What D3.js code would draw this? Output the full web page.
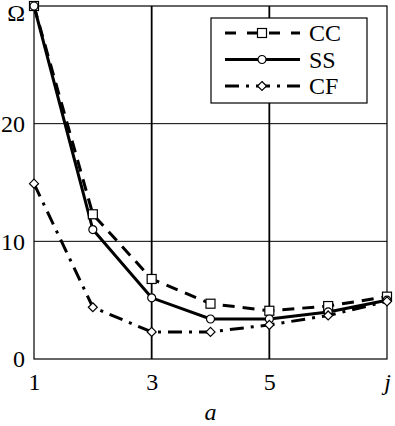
<!DOCTYPE html>
<html>
<head>
<meta charset="utf-8">
<script src="https://cdn.jsdelivr.net/npm/d3@7"></script>
<style>
  body { margin: 0; background: #fff; }
  text { font-family: "Liberation Serif", "Times New Roman", serif; fill: #000; }
</style>
</head>
<body>
<svg id="chart"></svg>
<script>
const xValues = [1, 2, 3, 4, 5, 6, 7];
const ccValues = [30, 12.3, 6.8, 4.7, 4.1, 4.5, 5.3];
const ssValues = [30, 11.0, 5.2, 3.4, 3.4, 4.0, 5.0];
const cfValues = [14.9, 4.4, 2.3, 2.3, 2.9, 3.7, 4.9];
const xTicks = [1, 3, 5, 7];
const xTickLabels = ["1", "3", "5", "j"];
const yTicks = [0, 10, 20, 30];
const yTickLabels = ["0", "10", "20", "Ω"];
const seriesNames = ["CC", "SS", "CF"];

const width = 395;
const height = 426;
const margin = { top: 6, right: 8, bottom: 67, left: 34 };
const serif = "'Liberation Serif', 'Times New Roman', serif";

const svg = d3.select("#chart")
  .attr("width", width)
  .attr("height", height);

const innerWidth = width - margin.left - margin.right;
const innerHeight = height - margin.top - margin.bottom;

const g = svg.append("g")
  .attr("transform", `translate(${margin.left},${margin.top})`);

const xScale = d3.scaleLinear().domain([1, 7]).range([0, innerWidth]);
const yScale = d3.scaleLinear().domain([0, 30]).range([innerHeight, 0]);

// grid
g.selectAll(".hgrid")
  .data([10, 20])
  .enter().append("line")
  .attr("x1", 0).attr("x2", innerWidth)
  .attr("y1", d => yScale(d)).attr("y2", d => yScale(d))
  .attr("stroke", "#000").attr("stroke-width", 1);

g.selectAll(".vgrid")
  .data([3, 5])
  .enter().append("line")
  .attr("y1", 0).attr("y2", innerHeight)
  .attr("x1", d => xScale(d)).attr("x2", d => xScale(d))
  .attr("stroke", "#000").attr("stroke-width", 1.8);

g.append("rect")
  .attr("x", 0).attr("y", 0)
  .attr("width", innerWidth).attr("height", innerHeight)
  .attr("fill", "none").attr("stroke", "#000").attr("stroke-width", 1.2);

// tick labels
const xAxis = d3.axisBottom(xScale)
  .tickValues(xTicks)
  .tickSize(0)
  .tickPadding(14)
  .tickFormat((d, i) => xTickLabels[i]);
const xAxisG = g.append("g")
  .attr("transform", `translate(0,${innerHeight})`)
  .call(xAxis);
xAxisG.select(".domain").remove();
xAxisG.selectAll("text")
  .style("font-size", "24px")
  .style("font-family", serif)
  .style("font-style", (d, i) => xTickLabels[i] === "j" ? "italic" : "normal");

const yAxis = d3.axisLeft(yScale)
  .tickValues(yTicks)
  .tickSize(0)
  .tickPadding(9)
  .tickFormat((d, i) => yTickLabels[i]);
const yAxisG = g.append("g").call(yAxis);
yAxisG.select(".domain").remove();
yAxisG.selectAll("text")
  .style("font-size", "24px")
  .style("font-family", serif)
  .attr("dy", (d, i) => yTickLabels[i] === "Ω" ? "0.62em" : "0.32em");

g.append("text")
  .attr("x", xScale(4))
  .attr("y", innerHeight + 61)
  .attr("text-anchor", "middle")
  .style("font-size", "24px")
  .style("font-style", "italic")
  .text("a");

// series
const series = [
  { name: seriesNames[0], values: ccValues, dash: "12,8", marker: "square" },
  { name: seriesNames[1], values: ssValues, dash: null, marker: "circle" },
  { name: seriesNames[2], values: cfValues, dash: "14,7,3,7", marker: "diamond" },
];

const line = d3.line()
  .x((d, i) => xScale(xValues[i]))
  .y(d => yScale(d));

function drawMarker(sel, type) {
  if (type === "square") {
    sel.append("rect").attr("x", -4.5).attr("y", -4.5).attr("width", 9).attr("height", 9)
      .attr("fill", "#fff").attr("stroke", "#000").attr("stroke-width", 1.2);
  } else if (type === "circle") {
    sel.append("circle").attr("r", 4)
      .attr("fill", "#fff").attr("stroke", "#000").attr("stroke-width", 1.2);
  } else {
    sel.append("path").attr("d", "M0,-4.5L4.5,0L0,4.5L-4.5,0Z")
      .attr("fill", "#fff").attr("stroke", "#000").attr("stroke-width", 1.2);
  }
}

series.forEach(s => {
  g.append("path")
    .datum(s.values)
    .attr("fill", "none")
    .attr("stroke", "#000")
    .attr("stroke-width", 3)
    .attr("stroke-dasharray", s.dash)
    .attr("d", line);
});

series.forEach(s => {
  g.selectAll(null)
    .data(s.values)
    .enter().append("g")
    .attr("transform", (d, i) => `translate(${xScale(xValues[i])},${yScale(d)})`)
    .each(function () { drawMarker(d3.select(this), s.marker); });
});

// legend
const legend = svg.append("g").attr("transform", "translate(211,18)");
legend.append("rect")
  .attr("width", 156).attr("height", 85)
  .attr("fill", "#fff").attr("stroke", "#000").attr("stroke-width", 1.2);

const legendDash = ["11,11", null, "14,7,3,7"];
series.forEach((s, i) => {
  const y = 15 + i * 26.5;
  const item = legend.append("g").attr("transform", `translate(0,${y})`);
  item.append("line")
    .attr("x1", 14).attr("x2", 89)
    .attr("y1", 0).attr("y2", 0)
    .attr("stroke", "#000").attr("stroke-width", 3)
    .attr("stroke-dasharray", legendDash[i]);
  const m = item.append("g").attr("transform", "translate(51,0)");
  drawMarker(m, s.marker);
  item.append("text")
    .attr("x", 98).attr("y", 8)
    .style("font-size", "24px")
    .style("font-family", serif)
    .text(s.name);
});
</script>
</body>
</html>
